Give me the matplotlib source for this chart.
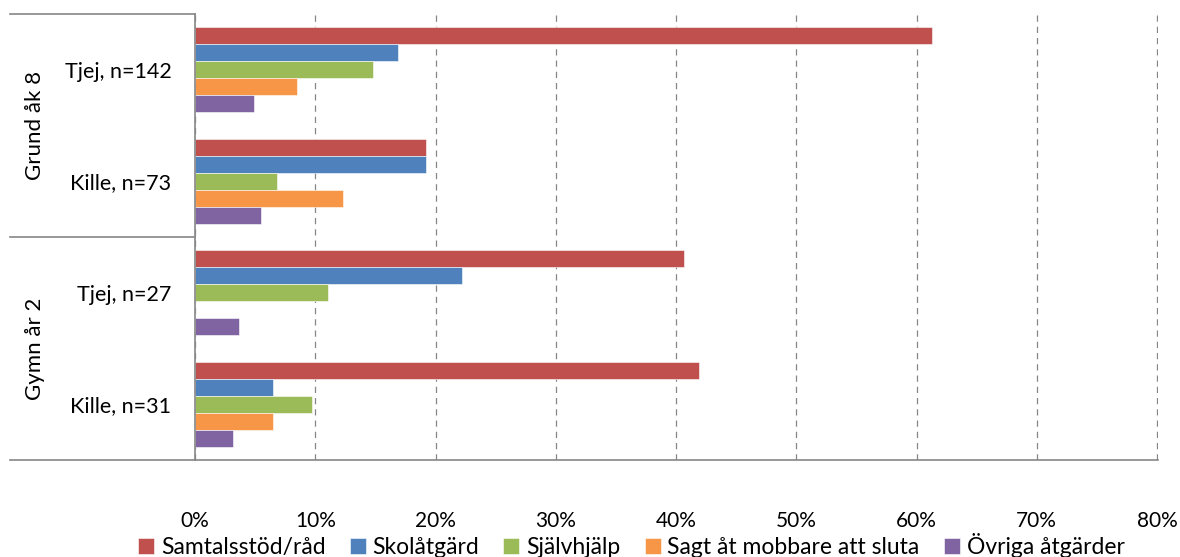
import matplotlib.pyplot as plt
import numpy as np

plt.rcParams['font.family'] = ['Lato', 'DejaVu Sans']

# Data (andel i procent)
categories = ['Tjej, n=142', 'Kille, n=73', 'Tjej, n=27', 'Kille, n=31']
groups = ['Grund åk 8', 'Gymn år 2']
series = ['Samtalsstöd/råd', 'Skolåtgärd', 'Självhjälp', 'Sagt åt mobbare att sluta', 'Övriga åtgärder']
samtal = [61.3, 19.2, 40.7, 41.9]
skola = [16.9, 19.2, 22.2, 6.5]
sjalv = [14.8, 6.8, 11.1, 9.7]
sagt = [8.5, 12.3, 0.0, 6.5]
ovriga = [4.9, 5.5, 3.7, 3.2]
colors = ['#C0504D', '#4F81BD', '#9BBB59', '#F79646', '#8064A2']
xticks = [0, 10, 20, 30, 40, 50, 60, 70, 80]

values = [samtal, skola, sjalv, sagt, ovriga]

fig = plt.figure(figsize=(11.8, 5.57), dpi=100)
ax = fig.add_axes([195 / 1180, 97 / 557, 963 / 1180, 446 / 557])

y = np.arange(len(categories))
h = 0.153
for i, (vals, name, c) in enumerate(zip(values, series, colors)):
    ax.barh(y + (i - 2) * h, vals, height=h, color=c, label=name,
            edgecolor='white', linewidth=0.4)

ax.set_ylim(3.5, -0.5)
ax.set_xlim(0, 80.08)
ax.set_xticks(xticks)
ax.set_xticklabels([f'{t}%' for t in xticks])
ax.set_yticks(y)
ax.set_yticklabels(categories)
ax.tick_params(axis='x', length=0, pad=37, labelsize=15)
ax.tick_params(axis='y', length=0, pad=17, labelsize=15.5)

ax.xaxis.grid(True, linestyle=(0, (5, 4)), color='#868686', linewidth=0.9)
ax.set_axisbelow(True)
for s in ['top', 'right']:
    ax.spines[s].set_visible(False)
for s in ['left', 'bottom']:
    ax.spines[s].set_color('#868686')
    ax.spines[s].set_linewidth(1.2)

# Gruppindelning till vänster
tr = ax.get_yaxis_transform()
x0 = (10 - 195) / 963
for yb in [-0.5, 1.5, 3.5]:
    ax.plot([x0, 0], [yb, yb], transform=tr, color='#868686', lw=1.2, clip_on=False)
for g, yc in zip(groups, [0.5, 2.5]):
    ax.text((35 - 195) / 963, yc, g, transform=tr, rotation=90,
            ha='center', va='center', fontsize=16)

fig.legend(loc='lower center', ncol=5, bbox_to_anchor=(0.535, -0.039), frameon=False,
           fontsize=16.5, handlelength=0.7, handleheight=0.7, handletextpad=0.3,
           columnspacing=1.05)

fig.savefig('out.png', dpi=100)
